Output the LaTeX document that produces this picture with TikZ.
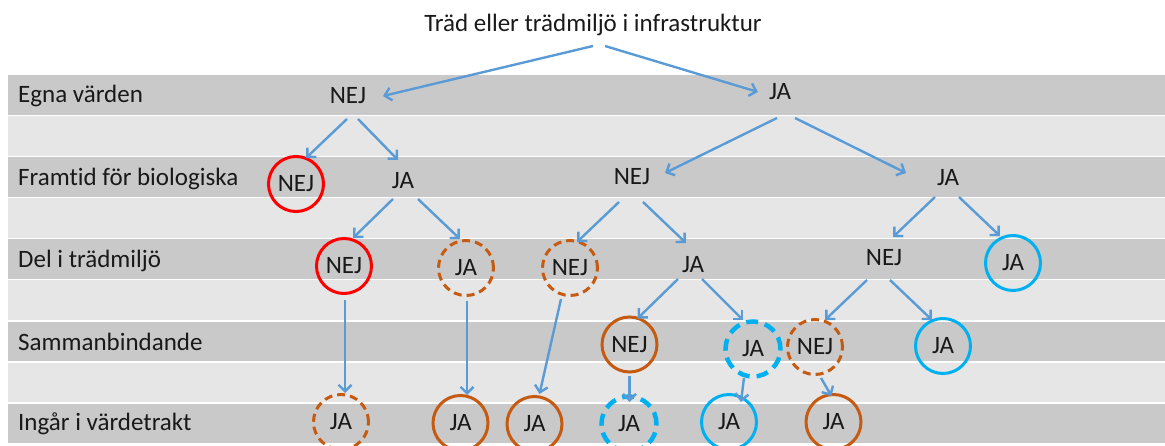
\documentclass[tikz,border=0pt]{standalone}
\usepackage{fontspec}
\setmainfont{Carlito}[Ligatures={NoCommon}]
\usetikzlibrary{arrows.meta,calc}
\definecolor{bandD}{HTML}{C9C9C9}
\definecolor{bandL}{HTML}{E6E6E6}
\definecolor{arrc}{HTML}{5B9BD5}
\definecolor{orng}{HTML}{C55A11}
\definecolor{blu}{HTML}{00B0F0}
\definecolor{rd}{HTML}{FF0000}
\tikzset{
  txt/.style={font=\fontsize{25}{29}\selectfont, inner sep=0pt, text=black!90},
  lbl/.style={txt, anchor=west},
  circ/.style={txt, circle, minimum size=55pt, line width=3pt},
  solidred/.style={circ, draw=rd},
  solidor/.style={circ, draw=orng},
  dashor/.style={circ, draw=orng, dash pattern=on 8pt off 5pt},
  solidbl/.style={circ, draw=blu},
  dashbl/.style={circ, draw=blu, line width=4.5pt, dash pattern=on 12pt off 7pt},
  arr/.style={draw=arrc, line width=2.4pt, -{Straight Barb[length=6.5pt,width=13pt,line width=2.4pt]}},
}
\begin{document}
\begin{tikzpicture}[x=1pt,y=-1pt]
\useasboundingbox (0,0) rectangle (1165,446);
\begin{scope}
\clip (0,0) rectangle (1165,446);
% bands
\foreach \i in {0,...,8}{
  \pgfmathsetmacro{\t}{75+41.1*\i}
  \pgfmathparse{mod(\i,2)==0 ? "bandD" : "bandL"}
  \edef\bc{\pgfmathresult}
  \fill[\bc] (8,\t) rectangle (1165,\t+39.6);
}
% row labels
\node[lbl] (l1) at (18,96) {Egna värden};
\node[lbl] (l2) at (18,179) {Framtid för biologiska};
\node[lbl] (l3) at (18,261) {Del i trädmiljö};
\node[lbl] (l4) at (18,342) {Sammanbindande};
\node[lbl] (l5) at (18,424) {Ingår i värdetrakt};
% title
\node[txt] (t) at (593,25) {Träd eller trädmiljö i infrastruktur};
% level 1
\node[txt] (a1) at (348,96) {NEJ};
\node[txt] (a2) at (780,92) {JA};
% level 2
\node[solidred] (b1) at (296,184) {NEJ};
\node[txt] (b2) at (403,181) {JA};
\node[txt] (b3) at (632,177) {NEJ};
\node[txt] (b4) at (948,178) {JA};
% level 3
\node[solidred] (c1) at (344,266) {NEJ};
\node[dashor] (c2) at (466,268) {JA};
\node[dashor] (c3) at (570,268) {NEJ};
\node[txt] (c4) at (693,265) {JA};
\node[txt] (c5) at (884,258) {NEJ};
\node[solidbl] (c6) at (1013,263) {JA};
% level 4
\node[solidor] (d1) at (629.5,344.5) {NEJ};
\node[dashbl] (d2) at (753,349) {JA};
\node[dashor] (d3) at (815,347) {NEJ};
\node[solidbl] (d4) at (943,346) {JA};
% level 5
\node[dashor] (e1) at (341,422) {JA};
\node[solidor] (e2) at (460.5,423) {JA};
\node[solidor] (e3) at (534.5,424) {JA};
\node[dashbl] (e4) at (629,424) {JA};
\node[solidbl] (e5) at (729,422) {JA};
\node[solidor] (e6) at (833.5,422) {JA};
% arrows
\draw[arr] ([shift={(0,21)}]t.center) -- ([shift={(35,0)}]a1.center);
\draw[arr] ([shift={(12,21)}]t.center) -- ([shift={(-22,0)}]a2.center);
\draw[arr] ([shift={(-1,23)}]a1.center) -- ([shift={(10,-26)}]b1.center);
\draw[arr] ([shift={(10,23)}]a1.center) -- ([shift={(-5,-21)}]b2.center);
\draw[arr] ([shift={(-3,26)}]a2.center) -- ([shift={(33,-4)}]b3.center);
\draw[arr] ([shift={(15,26)}]a2.center) -- ([shift={(-42,-5)}]b4.center);
\draw[arr] ([shift={(-10,18)}]b2.center) -- ([shift={(9,-28)}]c1.center);
\draw[arr] ([shift={(15,18)}]b2.center) -- ([shift={(-6,-29)}]c2.center);
\draw[arr] ([shift={(-13,25)}]b3.center) -- ([shift={(7,-26)}]c3.center);
\draw[arr] ([shift={(11,25)}]b3.center) -- ([shift={(-7,-22)}]c4.center);
\draw[arr] ([shift={(-13,19)}]b4.center) -- ([shift={(9,-21)}]c5.center);
\draw[arr] ([shift={(11,19)}]b4.center) -- ([shift={(-13,-27)}]c6.center);
\draw[arr] ([shift={(1,34)}]c1.center) -- ([shift={(4,-29)}]e1.center);
\draw[arr] ([shift={(1,33)}]c2.center) -- ([shift={(6.5,-28)}]e2.center);
\draw[arr] ([shift={(-9,31)}]c3.center) -- ([shift={(5,-30)}]e3.center);
\draw[arr] ([shift={(-15,14)}]c4.center) -- ([shift={(8,-26)}]d1.center);
\draw[arr] ([shift={(9,14)}]c4.center) -- ([shift={(-10,-29)}]d2.center);
\draw[arr] ([shift={(-17,22)}]c5.center) -- ([shift={(10,-27)}]d3.center);
\draw[arr] ([shift={(6,22)}]c5.center) -- ([shift={(-11,-26)}]d4.center);
\draw[arr] ([shift={(0,31)}]d1.center) -- ([shift={(0.5,-22)}]e4.center);
\draw[arr] ([shift={(-9,29)}]d2.center) -- ([shift={(12,-20)}]e5.center);
\draw[arr] ([shift={(6,31)}]d3.center) -- ([shift={(-2,-26)}]e6.center);
\end{scope}
\end{tikzpicture}
\end{document}
